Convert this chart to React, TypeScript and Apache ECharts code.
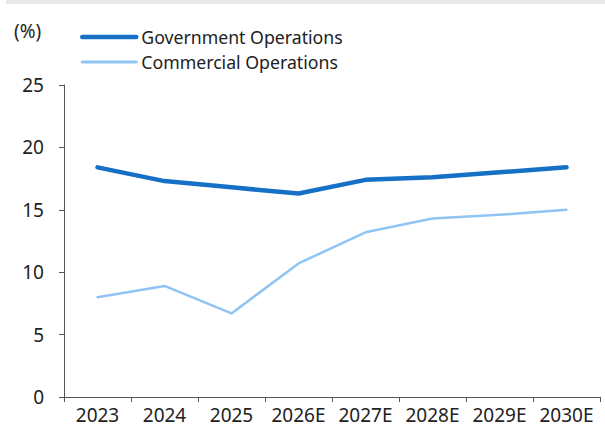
import React, { useEffect, useRef } from "react";
import * as echarts from "echarts";

const categories = ["2023", "2024", "2025", "2026E", "2027E", "2028E", "2029E", "2030E"];
const governmentOps = [18.4, 17.3, 16.8, 16.3, 17.4, 17.6, 18.0, 18.4];
const commercialOps = [8.0, 8.9, 6.7, 10.7, 13.2, 14.3, 14.6, 15.0];
const yTicks = { min: 0, max: 25, interval: 5 };

const FONT = "'Noto Sans', sans-serif";
const TEXT = "#222222";

export default function App() {
  const ref = useRef<HTMLDivElement>(null);

  useEffect(() => {
    if (!ref.current) return;
    const chart = echarts.init(ref.current, undefined, { renderer: "svg" });
    chart.setOption({
      animation: false,
      backgroundColor: "#ffffff",
      textStyle: { fontFamily: FONT, color: TEXT },
      graphic: [
        {
          type: "rect",
          left: 6,
          top: 0,
          shape: { width: 599, height: 4 },
          style: { fill: "#e8e8e8" },
        },
        {
          type: "text",
          left: 14,
          top: 21,
          style: { text: "(%)", fill: TEXT, font: `19px ${FONT}` },
        },
      ],
      legend: {
        orient: "vertical",
        left: 80,
        top: 28,
        padding: 0,
        itemWidth: 54,
        itemHeight: 20,
        itemGap: 7,
        itemStyle: { opacity: 0 },
        lineStyle: { cap: "round" },
        textStyle: { fontFamily: FONT, fontSize: 17.7, color: TEXT },
        data: [
          { name: "Government Operations", lineStyle: { width: 4.5 } },
          { name: "Commercial Operations", lineStyle: { width: 3 } },
        ],
      },
      grid: { left: 64, right: 5, top: 85, bottom: 29 },
      xAxis: {
        type: "category",
        data: categories,
        boundaryGap: true,
        axisLine: { lineStyle: { color: "#555555", width: 1 } },
        axisTick: { show: true, length: 5, lineStyle: { color: "#555555" } },
        axisLabel: { color: TEXT, fontSize: 19, fontFamily: FONT, margin: 8, interval: 0 },
      },
      yAxis: {
        type: "value",
        min: yTicks.min,
        max: yTicks.max,
        interval: yTicks.interval,
        axisLine: { show: true, lineStyle: { color: "#555555", width: 1 } },
        axisTick: { show: true, length: 5, lineStyle: { color: "#555555" } },
        splitLine: { show: false },
        axisLabel: { color: TEXT, fontSize: 19, fontFamily: FONT, margin: 20 },
      },
      series: [
        {
          name: "Government Operations",
          type: "line",
          data: governmentOps,
          symbol: "none",
          lineStyle: { color: "#1670c6", width: 4.5, cap: "round", join: "round" },
          itemStyle: { color: "#1670c6" },
        },
        {
          name: "Commercial Operations",
          type: "line",
          data: commercialOps,
          symbol: "none",
          lineStyle: { color: "#90c4f4", width: 2.5, cap: "round", join: "round" },
          itemStyle: { color: "#90c4f4" },
        },
      ],
    });
    return () => chart.dispose();
  }, []);

  return (
    <div
      ref={ref}
      style={{ position: "fixed", left: 0, top: 0, width: 605, height: 426 }}
    />
  );
}
